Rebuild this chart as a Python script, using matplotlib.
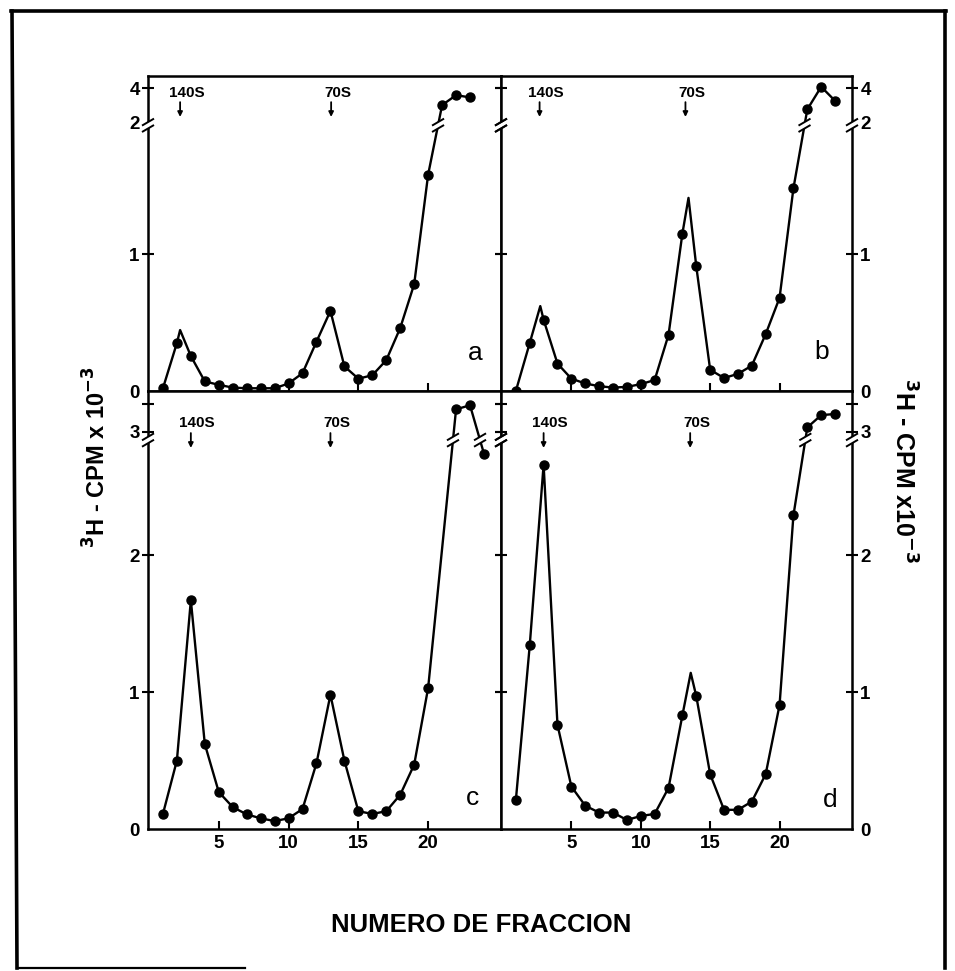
import numpy as np
import matplotlib
matplotlib.use("Agg")
import matplotlib.pyplot as plt
from matplotlib import font_manager
from matplotlib.lines import Line2D
from matplotlib.patches import Polygon


def pick_font(names):
    for n in names:
        try:
            font_manager.findfont(n, fallback_to_default=False)
            return n
        except Exception:
            pass
    return 'DejaVu Sans'


MAIN = pick_font(['Liberation Sans', 'Arial'])
NARROW = pick_font(['Liberation Sans Narrow', 'Liberation Sans'])
plt.rcParams['font.family'] = [MAIN, 'DejaVu Sans']
plt.rcParams['font.weight'] = 'bold'

# ---- 3H counts (CPM x 10^-3) per gradient fraction ----
fractions_a = list(range(1, 24))
cpm_a = [0.02, 0.35, 0.255, 0.07, 0.045, 0.025, 0.02, 0.02, 0.02, 0.055,
         0.13, 0.36, 0.585, 0.18, 0.09, 0.115, 0.225, 0.46, 0.78, 1.58,
         3.02, 3.60, 3.47]
apex_a_x = [2.23]
apex_a_y = [0.445]

fractions_b = list(range(1, 25))
cpm_b = [0.0, 0.35, 0.52, 0.20, 0.09, 0.055, 0.035, 0.025, 0.03, 0.05,
         0.08, 0.41, 1.15, 0.91, 0.155, 0.095, 0.125, 0.185, 0.415, 0.68,
         1.48, 2.77, 4.09, 3.27]
apex_b_x = [2.76, 13.44]
apex_b_y = [0.62, 1.41]

fractions_c = list(range(1, 21)) + [22, 23, 24]
cpm_c = [0.11, 0.50, 1.67, 0.62, 0.27, 0.16, 0.107, 0.078, 0.058, 0.078,
         0.146, 0.48, 0.98, 0.50, 0.13, 0.11, 0.13, 0.25, 0.47, 1.03,
         3.82, 3.97, 2.74]
apex_c_x = []
apex_c_y = []

fractions_d = list(range(1, 25))
cpm_d = [0.21, 1.34, 2.66, 0.76, 0.31, 0.17, 0.12, 0.12, 0.066, 0.095,
         0.11, 0.30, 0.83, 0.97, 0.40, 0.14, 0.14, 0.20, 0.40, 0.905,
         2.29, 3.16, 3.61, 3.65]
apex_d_x = [13.6]
apex_d_y = [1.14]

# sedimentation markers (fraction position)
s140_pos = {'a': 2.23, 'b': 2.71, 'c': 3.0, 'd': 3.0}
s70_pos = {'a': 13.05, 'b': 13.22, 'c': 13.0, 'd': 13.56}

x_ticks = [5, 10, 15, 20]
top_yticks = [0, 1, 2, 4]
top_ylabels = ['0', '1', '2', '4']
bot_yticks = [0, 1, 2, 3, 4]
bot_ylabels = ['0', '1', '2', '3', '']

# ---- broken y scales (piecewise linear) ----
TOP_V = [-1, 0, 1.92, 2.0, 4.0, 8.0]
TOP_D = [-1, 0, 1.92, 1.96, 2.21, 2.71]
BOT_V = [-1, 0, 2.78, 3.0, 4.0, 8.0]
BOT_D = [-1, 0, 2.78, 2.90, 3.10, 3.90]


def make_scale(vk, dk):
    vk = np.asarray(vk, float)
    dk = np.asarray(dk, float)

    def fwd(x):
        return np.interp(x, vk, dk)

    def inv(x):
        return np.interp(x, dk, vk)
    return fwd, inv


W, H = 955, 971
fig = plt.figure(figsize=(W / 100, H / 100), dpi=100)
to_fig = fig.transFigure.inverted().transform


def rect(x0, y0, x1, y1):
    return [x0 / W, 1 - y1 / H, (x1 - x0) / W, (y1 - y0) / H]


def break_mark(px, py, half_w=6.0, rise=3.5, sep=3.2, lw=1.4):
    band = np.array([(px - half_w, py - sep - rise), (px + half_w, py - sep + rise),
                     (px + half_w, py + sep + rise), (px - half_w, py + sep - rise)])
    fig.add_artist(Polygon(to_fig(band), closed=True, fc='white', ec='none',
                           transform=fig.transFigure, zorder=5))
    for s in (-sep, sep):
        seg = to_fig(np.array([(px - half_w, py + s - rise), (px + half_w, py + s + rise)]))
        fig.add_artist(Line2D(seg[:, 0], seg[:, 1], transform=fig.transFigure,
                              color='k', lw=lw, zorder=6, solid_capstyle='butt'))


panels = [
    ('a', rect(148, 76, 501, 391), fractions_a, cpm_a, apex_a_x, apex_a_y, 'top', 'left'),
    ('b', rect(501, 76, 852, 391), fractions_b, cpm_b, apex_b_x, apex_b_y, 'top', 'right'),
    ('c', rect(148, 391, 501, 829), fractions_c, cpm_c, apex_c_x, apex_c_y, 'bot', 'left'),
    ('d', rect(501, 391, 852, 829), fractions_d, cpm_d, apex_d_x, apex_d_y, 'bot', 'right'),
]

letter_pos = {'a': (0.926, 0.12), 'b': (0.914, 0.125), 'c': (0.92, 0.071), 'd': (0.937, 0.066)}

pending_breaks = []

for name, r, fx, fy, ax_x, ax_y, row, side in panels:
    ax = fig.add_axes(r)
    if row == 'top':
        fwd, inv = make_scale(TOP_V, TOP_D)
        ytop = 4.72
        yt, yl, hide = top_yticks, top_ylabels, (0, 2)
        break_d = 1.94
        txt_y, tail_y, tip_y = 0.946, 0.917, 0.870
    else:
        fwd, inv = make_scale(BOT_V, BOT_D)
        ytop = 4.49
        yt, yl, hide = bot_yticks, bot_ylabels, (0,)
        break_d = 2.84
        txt_y, tail_y, tip_y = 0.927, 0.904, 0.870

    ax.set_yscale('function', functions=(fwd, inv))
    ax.set_xlim(-0.07, 25.22)
    ax.set_ylim(0, ytop)

    for sp in ax.spines.values():
        sp.set_linewidth(1.8)

    # curve through measured points plus the drawn apex of each peak
    lx = np.array(list(fx) + list(ax_x), float)
    ly = np.array(list(fy) + list(ax_y), float)
    order = np.argsort(lx)
    lx, ly = lx[order], ly[order]
    ax.plot(lx, ly, '-', color='k', lw=1.7, clip_on=False, zorder=3)
    ax.plot(fx, fy, 'o', color='k', ms=6.5, clip_on=False, zorder=4)

    # ticks
    ax.set_xticks(x_ticks)
    ax.tick_params(axis='x', direction='in', length=6, width=1.5,
                   top=False, bottom=True,
                   labelbottom=(row == 'bot'), labelsize=13.5, pad=4)
    for lab in ax.get_xticklabels():
        lab.set_fontfamily([NARROW, 'DejaVu Sans'])
        lab.set_fontweight('bold')
    ax.set_yticks(yt)
    ax.set_yticklabels(yl)
    ax.tick_params(axis='y', direction='inout', length=9, width=1.5,
                   left=True, right=True,
                   labelleft=(side == 'left'), labelright=(side == 'right'),
                   labelsize=13.5, pad=1.5)
    for lab in ax.get_yticklabels():
        lab.set_fontfamily([NARROW, 'DejaVu Sans'])
        lab.set_fontweight('bold')
    for t, v in zip(ax.yaxis.get_major_ticks(), yt):
        if v in hide:
            t.tick1line.set_visible(False)
            t.tick2line.set_visible(False)
    ax.minorticks_off()

    # sedimentation markers
    for lbl, xpos in (('140S', s140_pos[name]), ('70S', s70_pos[name])):
        ax.annotate('', xy=(xpos, tip_y), xytext=(xpos, tail_y),
                    xycoords=('data', 'axes fraction'),
                    arrowprops=dict(arrowstyle='-|>', color='k', lw=1.3,
                                    mutation_scale=7, shrinkA=0, shrinkB=0))
        ax.annotate(lbl, xy=(xpos, txt_y), xycoords=('data', 'axes fraction'),
                    xytext=(4.5, 0), textcoords='offset points',
                    ha='center', va='center', fontsize=11, fontweight='bold')

    lx_, ly_ = letter_pos[name]
    ax.text(lx_, ly_, name, transform=ax.transAxes, ha='center', va='center',
            fontsize=19, fontweight='normal')

    pending_breaks.append((ax, fwd, inv, break_d, lx, ly))

# break symbols on the axes and on the curves
for ax, fwd, inv, bd, lx, ly in pending_breaks:
    bv = float(inv(bd))
    ytr = ax.get_yaxis_transform()
    for xf in (0.0, 1.0):
        px, py = ytr.transform((xf, bv))
        break_mark(px, py)
    dy = fwd(ly)
    for i in range(len(lx) - 1):
        d0, d1 = dy[i], dy[i + 1]
        if (d0 - bd) * (d1 - bd) < 0:
            t = (bd - d0) / (d1 - d0)
            xc = lx[i] + t * (lx[i + 1] - lx[i])
            px, py = ax.transData.transform((xc, bv))
            break_mark(px, py)

# axis titles
fig.text(97 / W, 1 - 457 / H, r'$^{\mathbf{3}}$H - CPM x 10$^{\mathbf{-3}}$', rotation=90,
         ha='center', va='center', fontsize=17, fontweight='bold',
         family=[MAIN, 'DejaVu Sans'])
fig.text(903 / W, 1 - 471 / H, r'$^{\mathbf{3}}$H - CPM x10$^{\mathbf{-3}}$', rotation=270,
         ha='center', va='center', fontsize=18, fontweight='bold',
         family=[MAIN, 'DejaVu Sans'])
fig.text(481 / W, 1 - 925 / H, 'NUMERO DE FRACCION', ha='center', va='center',
         fontsize=18.5, fontweight='bold')


# outer frame
def frame_line(xs, ys, lw):
    fig.add_artist(Line2D([x / W for x in xs], [1 - y / H for y in ys],
                          transform=fig.transFigure, color='k', lw=lw))


frame_line([11, 946], [11, 11], 2.6)
frame_line([12, 17], [11, 968], 2.6)
frame_line([945, 945], [11, 968], 2.6)
frame_line([17, 245], [968, 968], 1.6)

fig.savefig('out.png', dpi=100, facecolor='white')
